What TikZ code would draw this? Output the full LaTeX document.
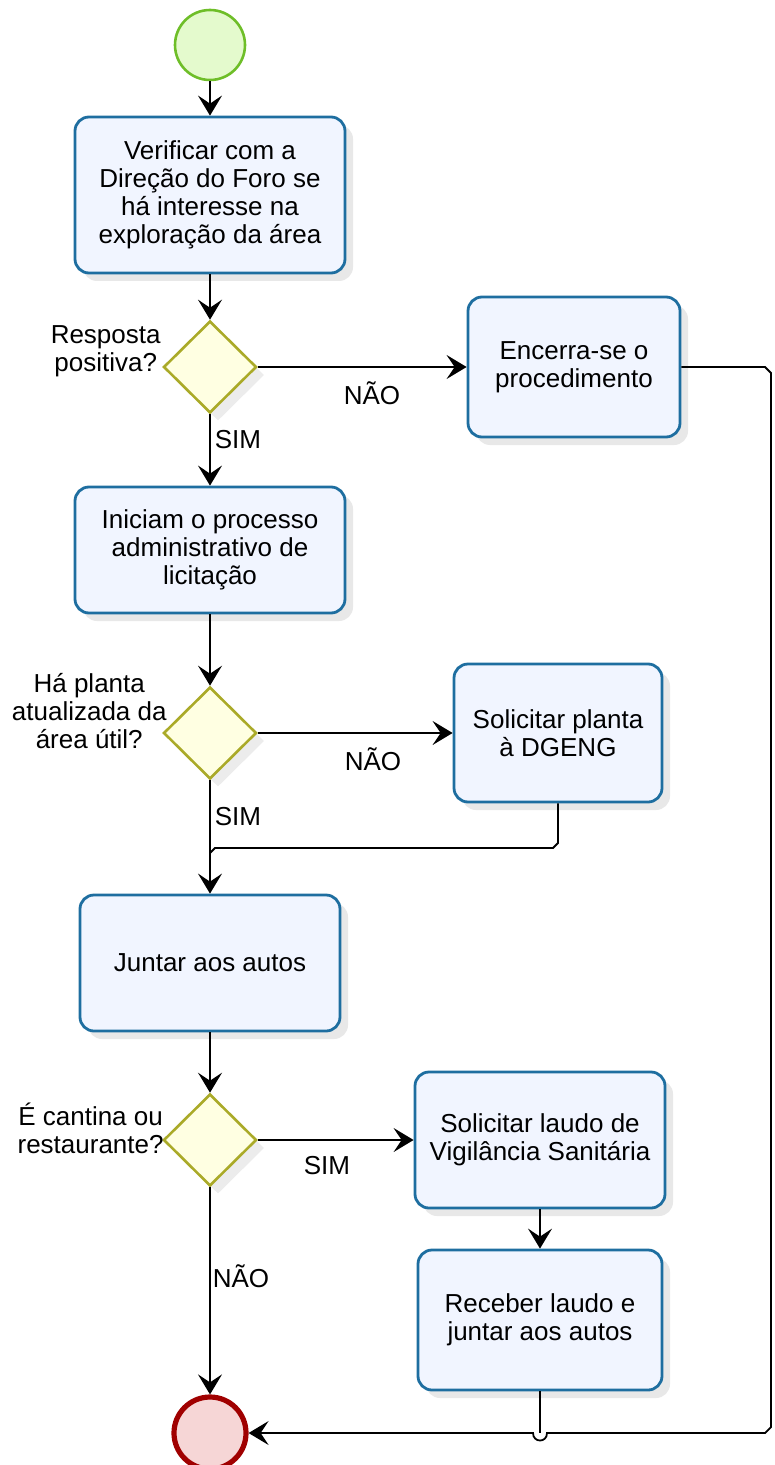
\documentclass[tikz,border=0pt]{standalone}
\usepackage{fontspec}
\setmainfont{Liberation Sans}
\usetikzlibrary{shapes.geometric,arrows.meta,shadows}

\definecolor{taskline}{RGB}{30,110,160}
\definecolor{taskfill}{RGB}{241,245,255}
\definecolor{gateline}{RGB}{170,170,40}
\definecolor{gatefill}{RGB}{255,255,226}
\definecolor{startline}{RGB}{110,190,40}
\definecolor{startfill}{RGB}{228,250,205}
\definecolor{endline}{RGB}{160,0,0}
\definecolor{endfill}{RGB}{246,214,214}

\def\straightflow{inicio/verif, verif/g1, g1/encerra, g1/proc, proc/g2, g2/planta, g2/juntar, juntar/g3, g3/laudo, laudo/receber, g3/fim}

\tikzstyle{task} = [draw=taskline, line width=1.4pt, fill=taskfill, rounded corners=7pt, align=center,
  font=\fontsize{13}{14}\selectfont, inner sep=2pt,
  drop shadow={opacity=0.18, shadow xshift=4pt, shadow yshift=-4pt}]
\tikzstyle{gate} = [diamond, draw=gateline, line width=1.3pt, fill=gatefill, minimum width=46.5pt,
  minimum height=46pt, inner sep=0pt, drop shadow={opacity=0.15, shadow xshift=4pt, shadow yshift=-4pt}]
\tikzstyle{startev} = [circle, draw=startline, line width=1.3pt, fill=startfill, minimum size=35pt, inner sep=0pt]
\tikzstyle{endev} = [circle, draw=endline, line width=2.6pt, fill=endfill, minimum size=36pt, inner sep=0pt]
\tikzstyle{flow} = [draw, line width=0.9pt, -{Stealth[length=10pt,width=12pt,inset=4pt]}]
\tikzstyle{line} = [draw, line width=0.9pt, -]
\tikzstyle{flowlabel} = [font=\fontsize{13}{14}\selectfont, inner sep=0pt]
\tikzstyle{question} = [font=\fontsize{13}{14}\selectfont, align=center, anchor=east, inner sep=0pt]

\begin{document}
\begin{tikzpicture}[x=0.5pt, y=-0.5pt]
  \useasboundingbox (0,0) rectangle (775,1465);

  % Start and end events
  \node[startev] (inicio) at (210,45) {};
  \node[endev] (fim) at (210,1433) {};

  % Tasks of the main column
  \node[task, minimum width=135pt, minimum height=78pt] (verif) at (210,195)
    {Verificar com a\\Direção do Foro se\\há interesse na\\exploração da área};
  \node[task, minimum width=135pt, minimum height=63pt] (proc) at (210,550)
    {Iniciam o processo\\administrativo de\\licitação};
  \node[task, minimum width=130pt, minimum height=68pt] (juntar) at (210,963) {Juntar aos autos};

  % Tasks on the right
  \node[task, minimum width=106pt, minimum height=70pt] (encerra) at (574,367) {Encerra-se o\\procedimento};
  \node[task, minimum width=104pt, minimum height=69pt] (planta) at (558,733) {Solicitar planta\\à DGENG};
  \node[task, minimum width=125pt, minimum height=68pt] (laudo) at (540,1140)
    {Solicitar laudo de\\Vigilância Sanitária};
  \node[task, minimum width=122pt, minimum height=70pt] (receber) at (540,1320)
    {Receber laudo e\\juntar aos autos};

  % Gateways and their questions
  \foreach \pos/\name in {{(210,367)/g1}, {(210,733)/g2}, {(210,1140)/g3}} {
    \node[gate] (\name) at \pos {};
  }
  \node[question] (q1) at (161,351) {Resposta\\positiva?};
  \node[question] (q2) at (167,711) {Há planta\\atualizada da\\área útil?};
  \node[question] (q3) at (164,1128) {É cantina ou\\restaurante?};

  % Labels on the flows
  \foreach \pos/\txt/\name in {{(372,393)/NÃO/l1}, {(238,440)/SIM/l2}, {(373,759)/NÃO/l3},
      {(238,817)/SIM/l4}, {(327,1166)/SIM/l5}, {(241,1276)/NÃO/l6}} {
    \node[flowlabel] (\name) at \pos {\txt};
  }

  % Straight flows
  \foreach \source/\dest in \straightflow
    \path[flow] (\source) -- (\dest);

  % Flows joining other flows
  \coordinate (m2) at (210,853);
  \coordinate (m3) at (540,1433);
  \path[line] (planta.south) -- (558,843) -- (553,848) -- (215,848) -- (m2);
  \path[line] (receber.south) -- (m3);
  \path[flow] (encerra.east) -- (765,367) -- (771,373) -- (771,1427) -- (765,1433) -- (547,1433)
    .. controls (547,1443) and (533,1443) .. (533,1433) -- (fim.east);

\end{tikzpicture}
\end{document}
